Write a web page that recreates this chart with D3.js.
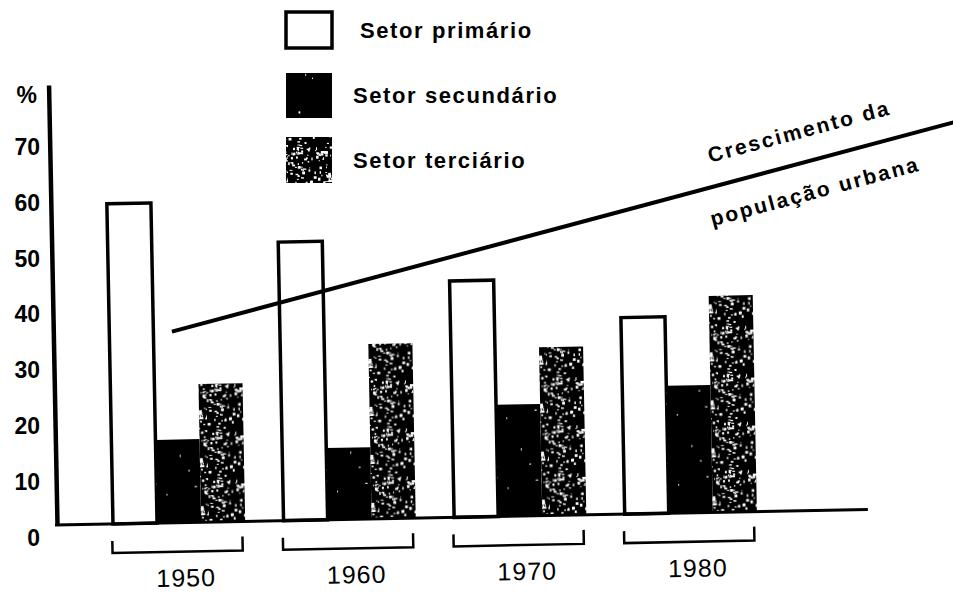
<!DOCTYPE html>
<html><head><meta charset="utf-8">
<script src="https://cdn.jsdelivr.net/npm/d3@7"></script>
<style>body{margin:0;background:#fff}</style>
</head><body>
<svg id="c" width="953" height="596"></svg>
<script>
// ---- data ----
const years = ["1950", "1960", "1970", "1980"];
const sectors = ["primario", "secundario", "terciario"];
const sectorLabels = ["Setor primário", "Setor secundário", "Setor terciário"];
const primario = [59.3, 51.6, 43.8, 36.4];
const secundario = [15.4, 13.3, 20.7, 23.6];
const terciario = [25.6, 32.4, 31.2, 40.1];
const yTickValues = [0, 10, 20, 30, 40, 50, 60, 70];
const trendPos = [0.367, 5.0];     // position in year-group units (0 = 1950)
const trendValue = [35.4, 71.6];   // %
const trendLabels = ["Crescimento da", "população urbana"];

const series = {primario, secundario, terciario};

const svg = d3.select("#c");
const defs = svg.append("defs");

// deterministic speckle texture (styling only)
function lcg(seed) { let s = seed; return () => (s = (s * 1664525 + 1013904223) % 4294967296) / 4294967296; }
function speckle(id, size, count, maxR, seed) {
  const p = defs.append("pattern").attr("id", id).attr("patternUnits", "userSpaceOnUse")
    .attr("width", size).attr("height", size);
  p.append("rect").attr("width", size).attr("height", size).attr("fill", "#000");
  const r = lcg(seed);
  for (let i = 0; i < count; i++) {
    const w = 0.8 + r() * maxR, h = 0.8 + r() * maxR;
    p.append("rect").attr("x", r() * size).attr("y", r() * size)
      .attr("width", w).attr("height", h).attr("fill", "#fff");
  }
}
speckle("patSec", 70, 10, 1.5, 7);
speckle("patTer", 48, 120, 2.2, 13);
const fills = {primario: "#fff", secundario: "url(#patSec)", terciario: "url(#patTer)"};

// ---- scales ----
const y = d3.scaleLinear().domain([0, 81.5]).range([525, 85]);
const yTicks = d3.scaleLinear().domain([0, 70]).range([538, 147]);
const x0 = d3.scaleBand().domain(years).range([113, 757]).paddingInner(0.225).paddingOuter(0);
const x1 = d3.scaleBand().domain(sectors).range([0, x0.bandwidth()]);
const xPos = d3.scaleLinear().domain([0, 3]).range([x0(years[0]), x0(years[3])]);

const font = "'Liberation Sans', Arial, Helvetica, sans-serif";

// ---- rotated plot frame (scan is slightly tilted) ----
const g = svg.append("g").attr("transform", "rotate(-1.1,57,525)");

// bars
const groups = g.selectAll("g.yr").data(years).join("g").attr("class", "yr")
  .attr("transform", d => `translate(${x0(d)},0)`);
groups.selectAll("rect").data((d, i) => sectors.map(s => ({s, v: series[s][i]}))).join("rect")
  .attr("x", d => x1(d.s)).attr("width", x1.bandwidth())
  .attr("y", d => y(d.v)).attr("height", d => y(0) - y(d.v))
  .attr("fill", d => fills[d.s])
  .attr("stroke", d => d.s === "primario" ? "#000" : "none")
  .attr("stroke-width", 3.5);

// y axis line
const ya = g.append("g").attr("transform", "translate(57,0)")
  .call(d3.axisLeft(y).tickValues([]).tickSizeOuter(0));
ya.select(".domain").attr("stroke", "#000").attr("stroke-width", 4.5);

// baseline
g.append("line").attr("x1", 55).attr("x2", 868).attr("y1", y(0)).attr("y2", y(0))
  .attr("stroke", "#000").attr("stroke-width", 3);

// brackets + year labels
groups.append("path")
  .attr("d", () => `M-1,${y(0) + 17}V${y(0) + 29}H${x0.bandwidth() - 3}V${y(0) + 15}`)
  .attr("fill", "none").attr("stroke", "#000").attr("stroke-width", 2.5);
groups.append("text").attr("x", x0.bandwidth() / 2 + 6).attr("y", y(0) + 64)
  .attr("text-anchor", "middle").attr("font-family", font).attr("font-size", 25)
  .attr("letter-spacing", 1).attr("fill", "#000").text(d => d);

// trend line
const tp = trendPos.map((p, i) => [xPos(p), y(trendValue[i])]);
g.append("path").attr("d", d3.line()(tp)).attr("stroke", "#000").attr("stroke-width", 4).attr("fill", "none");
const ang = Math.atan2(tp[1][1] - tp[0][1], tp[1][0] - tp[0][0]) * 180 / Math.PI;
const lp = 3.55;
const lx = xPos(lp), ly = y(trendValue[0] + (trendValue[1] - trendValue[0]) * (lp - trendPos[0]) / (trendPos[1] - trendPos[0]));
const tl = g.append("g").attr("transform", `translate(${lx},${ly}) rotate(${ang})`);
tl.append("text").attr("x", 4).attr("y", -24).text(trendLabels[0]);
tl.append("text").attr("x", -10).attr("y", 38).text(trendLabels[1]);
tl.selectAll("text").attr("font-family", font).attr("font-weight", "bold").attr("font-size", 21)
  .attr("letter-spacing", 2.2).attr("fill", "#000");

// ---- y tick labels ----
const yl = svg.append("g").attr("transform", "translate(40,0)")
  .call(d3.axisLeft(yTicks).tickValues(yTickValues).tickSize(0).tickPadding(0));
yl.select(".domain").remove();
yl.selectAll("text").attr("font-family", font).attr("font-weight", "bold").attr("font-size", 23)
  .attr("fill", "#000");
svg.append("text").attr("x", 37).attr("y", 103).attr("text-anchor", "end")
  .attr("font-family", font).attr("font-weight", "bold").attr("font-size", 23).text("%");

// ---- legend ----
const legY = [12, 73, 137], legH = [36, 45, 46], legTX = [360, 353, 353], legTY = [38, 103, 168];
const leg = svg.append("g");
sectors.forEach((s, i) => {
  leg.append("rect").attr("x", 286).attr("y", legY[i]).attr("width", 46).attr("height", legH[i])
    .attr("fill", fills[s]).attr("stroke", "#000").attr("stroke-width", s === "primario" ? 3.5 : 0);
  leg.append("text").attr("x", legTX[i]).attr("y", legTY[i]).text(sectorLabels[i])
    .attr("font-family", font).attr("font-weight", "bold").attr("font-size", 22)
    .attr("letter-spacing", 1.6).attr("fill", "#000");
});
</script>
</body></html>
